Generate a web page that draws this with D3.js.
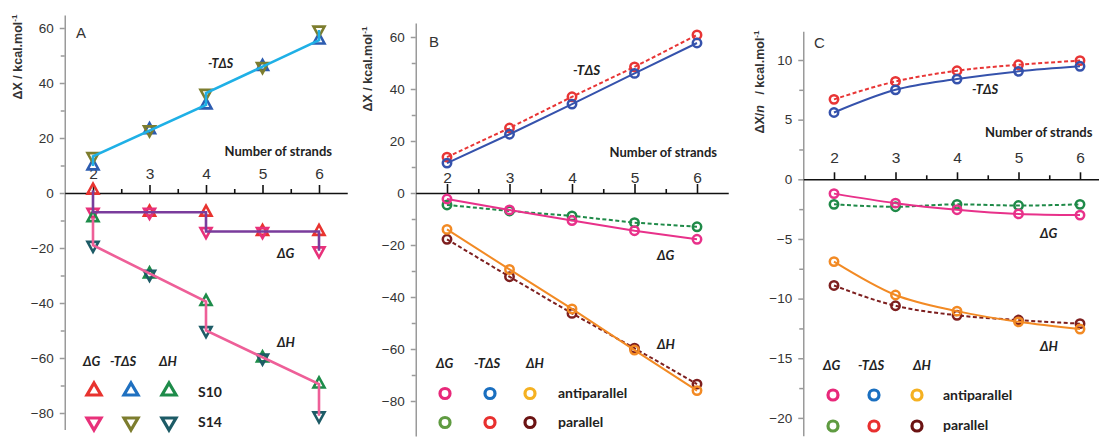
<!DOCTYPE html>
<html>
<head>
<meta charset="utf-8">
<script src="https://cdn.jsdelivr.net/npm/d3@7"></script>
<style>
  body { margin: 0; background: #fff; }
  svg { display: block; }
  .tick text { font-family: "Liberation Sans", Arial, sans-serif; fill: #333; }
  .lab { font-family: Lato, "Open Sans", sans-serif; font-weight: 700; fill: #222; }
</style>
</head>
<body>
<svg id="chart" width="1099" height="439"></svg>
<script>
const strands = [2, 3, 4, 5, 6];
const minorX = [2.5, 3.5, 4.5, 5.5];

// panel A : S10 / S14, kcal/mol
const aDG_S10 = [1, -7, -7, -14, -14];
const aDG_S14 = [-7, -7, -14, -14, -21];
const aTS_S10 = [9.8, 23, 32, 46, 55.6];
const aTS_S14 = [13.3, 23, 36.3, 46, 59.3];
const aDH_S10 = [-9, -29.5, -39.5, -60, -69.5];
const aDH_S14 = [-19, -29.5, -50, -60, -81];

// panel B : antiparallel / parallel, kcal/mol
const bDG_anti = [-2.3, -6.5, -10.6, -14.5, -17.8];
const bDG_par = [-4.6, -6.9, -8.8, -11.4, -13];
const bTS_anti = [11.5, 22.6, 34.2, 46, 57.7];
const bTS_par = [13.8, 25, 37, 48.5, 60.8];
const bDH_anti = [-14, -29.4, -44.6, -60.4, -76];
const bDH_par = [-17.8, -32.2, -46.3, -59.7, -73.5];

// panel C : per strand, kcal/mol
const cDG_anti = [-1.2, -2.0, -2.55, -2.9, -3.0];
const cDG_par = [-2.1, -2.3, -2.1, -2.2, -2.1];
const cTS_anti = [5.6, 7.5, 8.4, 9.05, 9.47];
const cTS_par = [6.7, 8.2, 9.1, 9.6, 9.95];
const cDH_anti = [-6.9, -9.7, -11.05, -11.95, -12.55];
const cDH_par = [-8.9, -10.6, -11.4, -11.8, -12.1];

const aTicks = [-80, -60, -40, -20, 0, 20, 40, 60];
const aMinor = [-70, -50, -30, -10, 10, 30, 50];
const cTicks = [-20, -15, -10, -5, 0, 5, 10];
const cMinor = [-17.5, -12.5, -7.5, -2.5, 2.5, 7.5];

const svg = d3.select("#chart");

function makePanel(p) {
  // x scale from pixel of n=2 and n=6
  const kx = (p.x6 - p.x2) / 4;
  const x = d3.scaleLinear().domain([1.5, 6.5]).range([p.x2 - 0.5 * kx, p.x2 + 4.5 * kx]);
  const y = d3.scaleLinear().domain([p.ylo, p.yhi]).range([p.y0 - p.ylo * p.ky, p.y0 - p.yhi * p.ky]);
  const g = svg.append("g");

  // y axis (grey)
  const ya = g.append("g").attr("transform", `translate(${x(1.5)},0)`)
    .call(d3.axisLeft(y).tickValues(p.yTicks).tickSize(5).tickPadding(6).tickSizeOuter(0));
  ya.append("g").call(d3.axisLeft(y).tickValues(p.yMinor).tickSize(4).tickFormat("").tickSizeOuter(0))
    .select(".domain").remove();
  ya.selectAll("path, line").attr("stroke", "#9a9a9a").attr("stroke-width", 1.5);
  ya.selectAll("text").attr("font-size", 13.5);

  // x axis at zero (black)
  const xa = g.append("g").attr("transform", `translate(0,${y(0)})`)
    .call(d3.axisTop(x).tickValues(strands).tickFormat(d3.format("d"))
      .tickSize(p.tick).tickPadding(p.pad).tickSizeOuter(0));
  xa.append("g").call(d3.axisTop(x).tickValues(minorX).tickSize(4).tickFormat("").tickSizeOuter(0))
    .select(".domain").remove();
  xa.selectAll("path, line").attr("stroke", "#111").attr("stroke-width", 1.6);
  xa.selectAll("text").attr("font-size", 15.5).attr("fill", "#222");

  // y title
  const t = g.append("text")
    .attr("transform", `translate(${p.titleX},${p.titleY}) rotate(-90)`)
    .attr("text-anchor", "middle")
    .attr("font-family", "'Liberation Sans', Arial, sans-serif")
    .attr("font-weight", 700).attr("font-size", 12.5).attr("fill", "#333");
  t.append("tspan").text("ΔX");
  if (p.perN) { t.append("tspan").text("/"); t.append("tspan").attr("font-style", "italic").text("n\u00a0\u00a0"); }
  t.append("tspan").text(" / kcal.mol");
  t.append("tspan").attr("font-size", 8).attr("dy", -5).text("-1");

  // panel letter
  g.append("text").attr("x", p.letterX).attr("y", p.letterY)
    .attr("font-family", "'Liberation Sans', Arial, sans-serif")
    .attr("font-size", 15).attr("fill", "#333").text(p.letter);

  // x title
  g.append("text").attr("class", "lab").attr("x", p.nsX).attr("y", p.nsY)
    .attr("text-anchor", p.nsAnchor).attr("font-size", 13).text("Number of strands");

  return { g, x, y };
}

function italicLabel(g, txt, xx, yy, size) {
  g.append("text").attr("class", "lab").attr("x", xx).attr("y", yy)
    .attr("font-style", "italic").attr("font-size", size).text(txt);
}

function tri(w, h, down) {
  const s = down ? -1 : 1;
  return `M0,${-s * h * 2 / 3}L${w / 2},${s * h / 3}L${-w / 2},${s * h / 3}Z`;
}

// ---------------- Panel A ----------------
const A = makePanel({
  x2: 93, x6: 319, y0: 193, ky: 2.75, ylo: -86, yhi: 64.7,
  yTicks: aTicks, yMinor: aMinor, tick: 8, pad: 6,
  titleX: 22, titleY: 57, letter: "A", letterX: 76, letterY: 38,
  nsX: 332, nsY: 156, nsAnchor: "end"
});

function stepPts(s10, s14) {
  const pts = [];
  strands.forEach((n, i) => { if (n % 2 === 0) pts.push([n, s10[i]], [n, s14[i]]); });
  return pts;
}

const aSeries = [
  { v: aDG_S10, c: "#e8332f", down: false },
  { v: aDG_S14, c: "#e8317a", down: true },
  { v: aTS_S10, c: "#2d5cb0", down: false },
  { v: aTS_S14, c: "#7d7d2e", down: true },
  { v: aDH_S10, c: "#1e8c4a", down: false },
  { v: aDH_S14, c: "#1d5b66", down: true }
];
aSeries.forEach(s => {
  A.g.append("g").selectAll("path").data(strands).join("path")
    .attr("transform", (n, i) => `translate(${A.x(n)},${A.y(s.v[i])})`)
    .attr("d", tri(11, 10, s.down))
    .attr("fill", "none").attr("stroke", s.c).attr("stroke-width", 2.6);
});

const aLine = d3.line().x(d => A.x(d[0])).y(d => A.y(d[1]));
[
  { pts: stepPts(aTS_S10, aTS_S14), c: "#1fb0e6" },
  { pts: stepPts(aDG_S10, aDG_S14), c: "#7a3c9c" },
  { pts: stepPts(aDH_S10, aDH_S14), c: "#ee5f98" }
].forEach(l => {
  A.g.append("path").attr("d", aLine(l.pts)).attr("fill", "none")
    .attr("stroke", l.c).attr("stroke-width", 2.6);
});

italicLabel(A.g, "-TΔS", 208, 68, 12.5);
italicLabel(A.g, "ΔG", 277, 258, 13);
italicLabel(A.g, "ΔH", 277, 347, 13);

// legend A
italicLabel(A.g, "ΔG", 83, 366, 13);
italicLabel(A.g, "-TΔS", 110, 366, 13);
italicLabel(A.g, "ΔH", 159, 366, 13);
const aLegCols = [["#e8332f", "#1f70c0", "#1e8c4a"], ["#e8317a", "#7d7d2e", "#1d5b66"]];
const legX_A = [94, 131, 169];
aLegCols.forEach((row, r) => {
  row.forEach((c, k) => {
    A.g.append("path").attr("transform", `translate(${legX_A[k]},${r ? 422 : 391})`)
      .attr("d", tri(14, 12, r === 1)).attr("fill", "none")
      .attr("stroke", c).attr("stroke-width", 3.2);
  });
  A.g.append("text").attr("class", "lab").attr("x", 198).attr("y", r ? 427 : 397)
    .attr("font-size", 14).text(r ? "S14" : "S10");
});

// ---------------- Panels B and C ----------------
function ringSeries(P, data, color, dashed, curve) {
  const line = d3.line().x((d, i) => P.x(strands[i])).y(d => P.y(d));
  if (curve) line.curve(d3.curveMonotoneX);
  P.g.append("path").attr("d", line(data)).attr("fill", "none")
    .attr("stroke", color).attr("stroke-width", 2)
    .attr("stroke-dasharray", dashed ? "4,2.5" : null);
  P.g.append("g").selectAll("circle").data(data).join("circle")
    .attr("cx", (d, i) => P.x(strands[i])).attr("cy", d => P.y(d))
    .attr("r", 4.2).attr("fill", "none").attr("stroke", color).attr("stroke-width", 2.5);
}

const plotCols = { gAnti: "#e8318a", gPar: "#1f8a48", tAnti: "#3552ac", tPar: "#e83535", hAnti: "#f28a24", hPar: "#7d1f1f" };
const legCols = [["#e8287a", "#1a6fc0", "#f5b121"], ["#5f9b41", "#e8302f", "#6b1313"]];
const legNames = ["antiparallel", "parallel"];

function ringLegend(P, hx, hy, cx, cy, tx, ty) {
  italicLabel(P.g, "ΔG", hx[0], hy, 13);
  italicLabel(P.g, "-TΔS", hx[1], hy, 13);
  italicLabel(P.g, "ΔH", hx[2], hy, 13);
  legCols.forEach((row, r) => {
    row.forEach((c, k) => {
      P.g.append("circle").attr("cx", cx[k]).attr("cy", cy[r]).attr("r", 5)
        .attr("fill", "none").attr("stroke", c).attr("stroke-width", 3.2);
    });
    P.g.append("text").attr("class", "lab").attr("x", tx).attr("y", ty[r])
      .attr("font-size", 14).text(legNames[r]);
  });
}

const B = makePanel({
  x2: 447, x6: 697, y0: 193, ky: 2.6, ylo: -93.5, yhi: 65.4,
  yTicks: aTicks, yMinor: aMinor, tick: 9, pad: 1,
  titleX: 372, titleY: 69, letter: "B", letterX: 429, letterY: 47,
  nsX: 717, nsY: 157, nsAnchor: "end"
});
ringSeries(B, bTS_par, plotCols.tPar, true);
ringSeries(B, bTS_anti, plotCols.tAnti, false);
ringSeries(B, bDG_par, plotCols.gPar, true);
ringSeries(B, bDG_anti, plotCols.gAnti, false);
ringSeries(B, bDH_par, plotCols.hPar, true);
ringSeries(B, bDH_anti, plotCols.hAnti, false);
italicLabel(B.g, "-TΔS", 573, 75, 13.5);
italicLabel(B.g, "ΔG", 657, 260, 13);
italicLabel(B.g, "ΔH", 657, 349, 13);
ringLegend(B, [436, 474, 526], 368, [445, 490, 530], [393.5, 422.5], 558, [398, 427]);

const C = makePanel({
  x2: 834, x6: 1080, y0: 179.3, ky: 11.93, ylo: -21.5, yhi: 12.4,
  yTicks: cTicks, yMinor: cMinor, tick: 7, pad: 9,
  titleX: 764, titleY: 82, letter: "C", letterX: 814, letterY: 48,
  nsX: 985, nsY: 137, nsAnchor: "start", perN: true
});
ringSeries(C, cTS_par, plotCols.tPar, true, true);
ringSeries(C, cTS_anti, plotCols.tAnti, false, true);
ringSeries(C, cDG_par, plotCols.gPar, true, true);
ringSeries(C, cDG_anti, plotCols.gAnti, false, true);
ringSeries(C, cDH_par, plotCols.hPar, true, true);
ringSeries(C, cDH_anti, plotCols.hAnti, false, true);
italicLabel(C.g, "-TΔS", 972, 94, 13);
italicLabel(C.g, "ΔG", 1040, 238, 13);
italicLabel(C.g, "ΔH", 1040, 351, 13);
ringLegend(C, [823, 858, 913], 370, [833, 874, 917], [395, 426], 943, [400, 430]);
</script>
</body>
</html>
